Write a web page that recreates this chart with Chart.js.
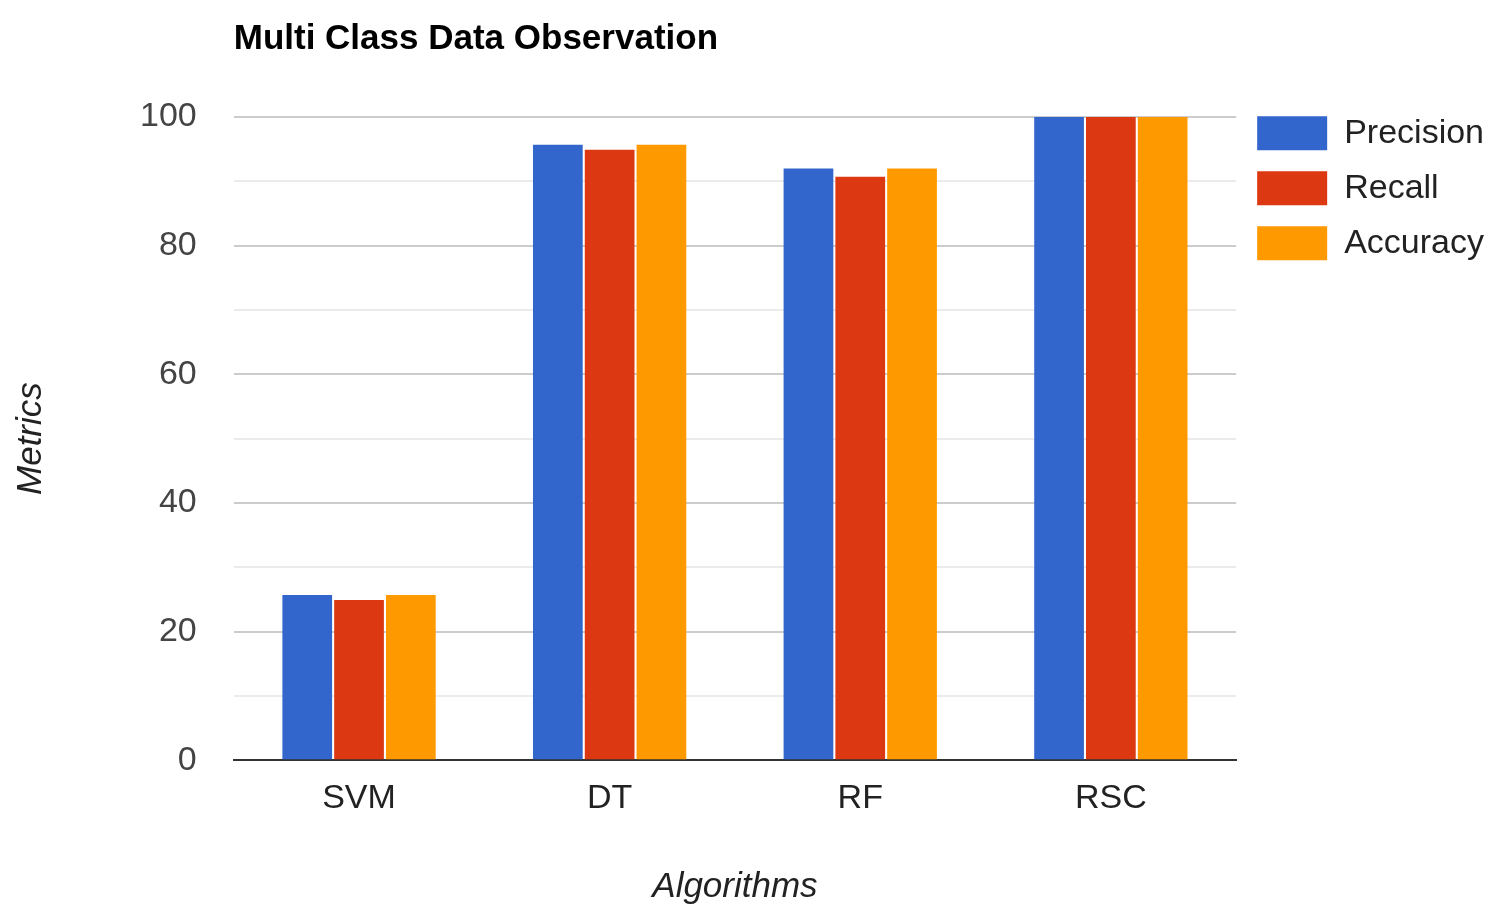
<!DOCTYPE html>
<html>
<head>
<meta charset="utf-8">
<script src="https://cdn.jsdelivr.net/npm/chart.js@4.4.0/dist/chart.umd.min.js"></script>
<style>
    html, body { margin: 0; padding: 0; background: #fff; }
    #wrap { position: relative; width: 1494px; height: 904px; }
</style>
</head>
<body>
<div id="wrap"><canvas id="chart"></canvas></div>
<script>
// ---------------------------------------------------------------------------
// Data
// ---------------------------------------------------------------------------

const categories = ["SVM", "DT", "RF", "RSC"];
const precision = [25.7, 95.7, 92.0, 100];
const recall = [24.9, 94.9, 90.7, 100];
const accuracy = [25.7, 95.7, 92.0, 100];

const FONT = "'Liberation Sans', Arial, sans-serif";

// ---------------------------------------------------------------------------
// Chart setup
// ---------------------------------------------------------------------------

const ctx = document.getElementById("chart").getContext("2d");
const chart = new Chart(ctx, {
    type: "bar",
    data: {
        labels: categories,
        datasets: [
            { label: "Precision", data: precision, backgroundColor: "#3366cc" },
            { label: "Recall", data: recall, backgroundColor: "#dc3912" },
            { label: "Accuracy", data: accuracy, backgroundColor: "#ff9900" },
        ],
    },
    options: {
        responsive: true,
        maintainAspectRatio: false,
        animation: false,
        layout: { padding: { left: 10, right: 0, top: 10, bottom: 0 } },
        datasets: {
            bar: { categoryPercentage: 0.62, barPercentage: 0.96 },
        },
        plugins: {
            title: {
                display: true,
                fullSize: false, // sits over the plot area, so "start" = plot left
                text: "Multi Class Data Observation",
                align: "start",
                color: "#000",
                font: { family: FONT, size: 35, weight: "bold" },
                padding: { top: 8, bottom: 57 },
            },
            legend: {
                position: "right",
                align: "start",
                title: {
                    // blank title just pushes the items down to the plot top
                    display: true,
                    text: " ",
                    font: { size: 1 },
                    padding: { top: 84, bottom: 0 },
                },
                labels: {
                    boxWidth: 70,
                    boxHeight: 34,
                    padding: 21,
                    color: "#222",
                    font: { family: FONT, size: 34 },
                },
            },
            tooltip: { enabled: false },
        },
        scales: {
            x: {
                grid: { display: false, drawTicks: false },
                border: { display: true, color: "#333", width: 2 },
                ticks: {
                    color: "#222",
                    padding: 18,
                    font: { family: FONT, size: 34 },
                },
                title: {
                    display: true,
                    text: "Algorithms",
                    color: "#222",
                    padding: { top: 29, bottom: -4 },
                    font: { family: FONT, size: 35, style: "italic" },
                },
            },
            y: {
                min: 0,
                max: 100,
                grid: {
                    drawTicks: false,
                    color: (c) => (c.tick && c.tick.value % 20 === 0 ? "#cccccc" : "#ebebeb"),
                    lineWidth: 2,
                },
                border: { display: false },
                ticks: {
                    stepSize: 10,
                    padding: 37,
                    color: "#444",
                    font: { family: FONT, size: 34 },
                    callback: (v) => (v % 20 === 0 ? v : ""),
                },
                title: {
                    display: true,
                    text: "Metrics",
                    color: "#222",
                    padding: { top: 0, bottom: 51 },
                    font: { family: FONT, size: 35, style: "italic" },
                },
            },
        },
    },
});
</script>
</body>
</html>
